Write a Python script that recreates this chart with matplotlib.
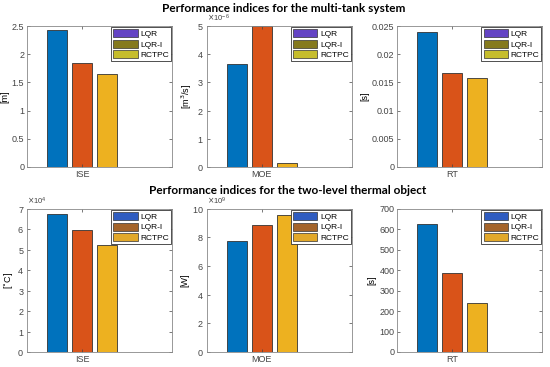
import matplotlib.pyplot as plt
from matplotlib.patches import Patch
from matplotlib.ticker import ScalarFormatter, FormatStrFormatter
import numpy as np

controllers = ['LQR', 'LQR-I', 'RCTPC']

# multi-tank system
tank_ise = [2.43, 1.84, 1.65]
tank_moe = [3.65e-6, 5.0e-6, 0.15e-6]
tank_rt = [0.024, 0.0167, 0.0158]

# two-level thermal object
thermal_ise = [6.75e4, 5.95e4, 5.22e4]
thermal_moe = [7.75e9, 8.85e9, 9.6e9]
thermal_rt = [627, 388, 238]

bar_colors = ['#0072BD', '#D95319', '#EDB120']
leg_top = ['#6444c4', '#857a1e', '#c6bd2c']
leg_bot = ['#2f5cc0', '#a4642a', '#e2a82a']

plt.rcParams['font.family'] = ['Liberation Sans', 'DejaVu Sans']
plt.rcParams['font.size'] = 6.5

fig = plt.figure(figsize=(5.5, 3.67), dpi=100)


def panel(rect, vals, name, ylab, ylim, yticks, sci, leg_colors):
    ax = fig.add_axes(rect)
    ax.bar(np.arange(3), vals, width=0.8, color=bar_colors,
           edgecolor='#333333', linewidth=0.6)
    ax.set_xlim(-1.2, 4.6)
    ax.set_ylim(*ylim)
    ax.set_xticks([1])
    ax.set_xticklabels([name])
    ax.set_ylabel(ylab, labelpad=2)
    if sci is not None:
        ax.set_yticks(np.array(yticks) * 10.0 ** sci)
        f = ScalarFormatter(useMathText=True)
        f.set_powerlimits((sci, sci))
        ax.yaxis.set_major_formatter(f)
        ax.yaxis.get_offset_text().set_fontsize(5.5)
        ax.yaxis.get_offset_text().set_color('#555555')
    else:
        ax.set_yticks(yticks)
        ax.yaxis.set_major_formatter(FormatStrFormatter('%g'))
    ax.tick_params(direction='in', length=2.5, width=0.5, colors='#444444',
                   top=True, right=True, pad=2, labelsize=6.5)
    for s in ax.spines.values():
        s.set_color('#888888')
        s.set_linewidth(0.6)
    handles = [Patch(facecolor=c, edgecolor='#333333', linewidth=0.5)
               for c in leg_colors]
    leg = ax.legend(handles, controllers, loc='upper right', fontsize=6,
                    handlelength=2.9, handleheight=1.1, handletextpad=0.3,
                    borderpad=0.25, labelspacing=0.2, fancybox=False,
                    borderaxespad=0.15, framealpha=1)
    leg.get_frame().set_edgecolor('#333333')
    leg.get_frame().set_linewidth(0.6)
    return ax


ty, th = 0.545, 0.384
by, bh = 0.041, 0.39
lefts = [0.049, 0.376, 0.722]
w = 0.264

panel([lefts[0], ty, w, th], tank_ise, 'ISE', '[m]', (0, 2.5),
      [0, 0.5, 1, 1.5, 2, 2.5], None, leg_top)
panel([lefts[1], ty, w, th], tank_moe, 'MOE', '[m$^3$/s]', (0, 5e-6),
      [0, 1, 2, 3, 4, 5], -6, leg_top)
panel([lefts[2], ty, w, th], tank_rt, 'RT', '[s]', (0, 0.025),
      [0, 0.005, 0.01, 0.015, 0.02, 0.025], None, leg_top)

panel([lefts[0], by, w, bh], thermal_ise, 'ISE', '[$^{\\circ}$C]', (0, 7e4),
      [0, 1, 2, 3, 4, 5, 6, 7], 4, leg_bot)
panel([lefts[1], by, w, bh], thermal_moe, 'MOE', '[W]', (0, 1e10),
      [0, 2, 4, 6, 8, 10], 9, leg_bot)
panel([lefts[2], by, w, bh], thermal_rt, 'RT', '[s]', (0, 700),
      [0, 100, 200, 300, 400, 500, 600, 700], None, leg_bot)

fig.text(284 / 550, 1 - 9 / 367, 'Performance indices for the multi-tank system',
         ha='center', va='center', fontsize=8.5, fontweight='bold',
         family=['Lato', 'DejaVu Sans'])
fig.text(288 / 550, 1 - 190 / 367, 'Performance indices for the two-level thermal object',
         ha='center', va='center', fontsize=8.5, fontweight='bold',
         family=['Lato', 'DejaVu Sans'])

fig.savefig('out.png', dpi=100, facecolor='white')
